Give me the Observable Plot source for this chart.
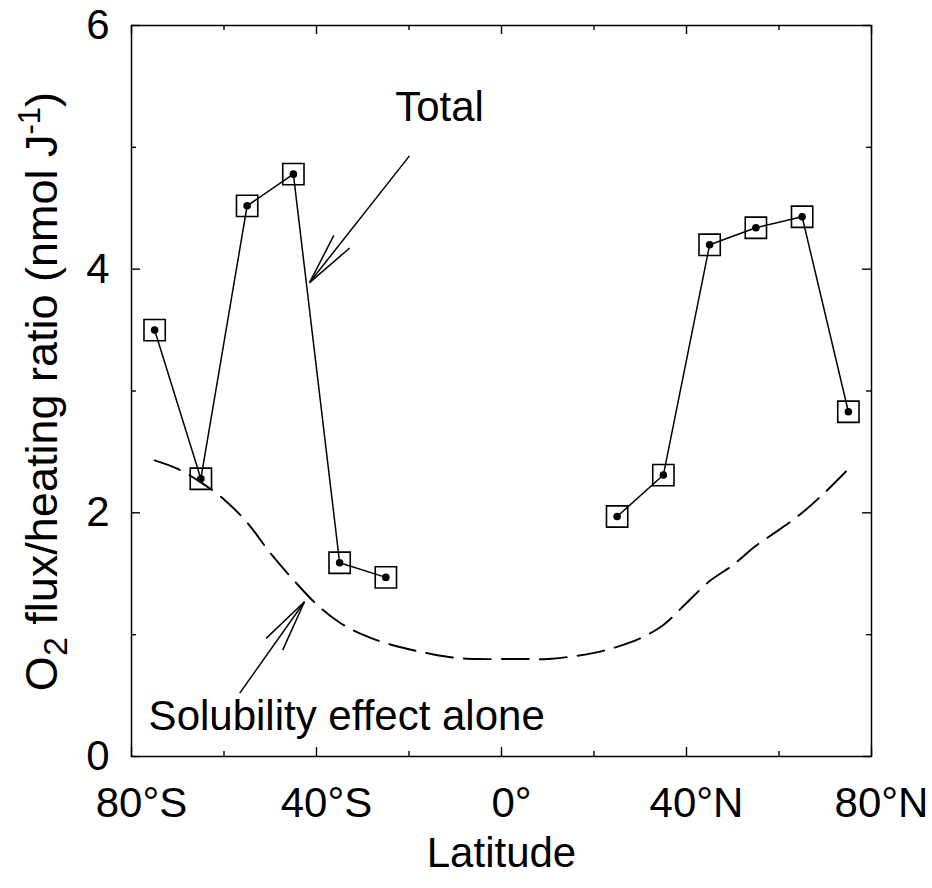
<!DOCTYPE html>
<html><head><meta charset="utf-8">
<script src="https://cdn.jsdelivr.net/npm/d3@7"></script>
<script src="https://cdn.jsdelivr.net/npm/@observablehq/plot@0.6"></script>
<style>body{margin:0;background:#fff} svg{display:block}</style>
</head><body><div id="chart"></div>
<script>
// Total O2 flux/heating ratio (squares with dots)
const totalLat = [-75, -65, -55, -45, -35, -25, 25, 35, 45, 55, 65, 75];
const totalVal = [3.50, 2.28, 4.52, 4.78, 1.59, 1.47, 1.97, 2.31, 4.20, 4.34, 4.43, 2.83];
// Solubility effect alone (dashed)
const solLat = [-75, -70, -65, -60, -55, -50, -45, -40, -35, -30, -25, -20, -15, -10, -5, 0, 5, 10, 15, 20, 25, 30, 35, 40, 45, 50, 55, 60, 65, 70, 75];
const solVal = [2.43, 2.36, 2.25, 2.11, 1.92, 1.67, 1.45, 1.25, 1.10, 1.00, 0.93, 0.88, 0.84, 0.81, 0.80, 0.80, 0.80, 0.80, 0.82, 0.85, 0.90, 0.97, 1.08, 1.26, 1.44, 1.57, 1.73, 1.86, 2.00, 2.17, 2.36];
// Axis ticks
const xMajor = [-80, -40, 0, 40, 80];
const xMinor = [-60, -20, 20, 60];
const xTickLabels = ["80°S", "40°S", "0°", "40°N", "80°N"];
const yMajor = [0, 2, 4, 6];
const yMinor = [1, 3, 5];
const yTickLabels = ["0", "2", "4", "6"];
// Annotations
const noteText = ["Total", "Solubility effect alone"];
const noteLat = [-13.4, -76.3];
const noteVal = [5.33, 0.33];
const arrowFromLat = [-19.9, -56.6];
const arrowFromVal = [4.93, 0.52];
const arrowToLat = [-41.5, -42.6];
const arrowToVal = [3.89, 1.27];

const W = 932, H = 888, mL = 131, mR = 61, mT = 25, mB = 132;
const pw = W - mL - mR, ph = H - mT - mB;
const kx = pw / 160, ky = ph / 6;

const total = totalLat.map((x, i) => ({x, y: totalVal[i], hemi: x < 0 ? "S" : "N"}));
const sol = solLat.map((x, i) => ({x, y: solVal[i]}));
const notes = noteText.map((t, i) => ({t, x: noteLat[i], y: noteVal[i]}));
const arrows = arrowFromLat.map((x, i) => ({x1: x, y1: arrowFromVal[i], x2: arrowToLat[i], y2: arrowToVal[i]}));
// arrow wings (open V heads)
const wingLen = 53, wingHalf = 11 * Math.PI / 180;
const wings = [];
arrows.forEach(a => {
  const dx = (a.x1 - a.x2) * kx, dy = -(a.y1 - a.y2) * ky;
  const ang = Math.atan2(dy, dx);
  [-1, 1].forEach(s => {
    const t = ang + s * wingHalf;
    wings.push({x1: a.x2, y1: a.y2, x2: a.x2 + Math.cos(t) * wingLen / kx, y2: a.y2 - Math.sin(t) * wingLen / ky});
  });
});

const font = "'Liberation Sans', Arial, Helvetica, sans-serif";
const fs = 42;
const chart = Plot.plot({
  width: W, height: H,
  marginLeft: mL, marginRight: mR, marginTop: mT, marginBottom: mB,
  style: {fontFamily: font, background: "#fff", color: "black"},
  x: {domain: [-80, 80], label: null},
  y: {domain: [0, 6], label: null},
  marks: [
    Plot.frame({stroke: "black", strokeWidth: 1.5}),
    Plot.ruleX(xMajor, {insetTop: ph - 9, stroke: "black", strokeWidth: 1.4}),
    Plot.ruleX(xMajor, {insetBottom: ph - 9, stroke: "black", strokeWidth: 1.4}),
    Plot.ruleX(xMinor, {insetTop: ph - 5, stroke: "black", strokeWidth: 1.4}),
    Plot.ruleX(xMinor, {insetBottom: ph - 5, stroke: "black", strokeWidth: 1.4}),
    Plot.ruleY(yMajor, {insetRight: pw - 9, stroke: "black", strokeWidth: 1.4}),
    Plot.ruleY(yMajor, {insetLeft: pw - 9, stroke: "black", strokeWidth: 1.4}),
    Plot.ruleY(yMinor, {insetRight: pw - 5, stroke: "black", strokeWidth: 1.4}),
    Plot.ruleY(yMinor, {insetLeft: pw - 5, stroke: "black", strokeWidth: 1.4}),
    Plot.axisX(xMajor, {anchor: "bottom", tickSize: 0, tickPadding: 31, fontSize: fs, dx: 10,
      tickFormat: d => xTickLabels[xMajor.indexOf(d)], label: null}),
    Plot.axisY(yMajor, {anchor: "left", tickSize: 0, tickPadding: 22, fontSize: fs,
      tickFormat: d => yTickLabels[yMajor.indexOf(d)], label: null}),
    Plot.line(sol, {x: "x", y: "y", stroke: "black", strokeWidth: 1.9, strokeDasharray: "27,11", curve: "catmull-rom"}),
    Plot.line(total, {x: "x", y: "y", z: "hemi", stroke: "black", strokeWidth: 1.5}),
    Plot.dot(total, {x: "x", y: "y", symbol: "square", r: 12, stroke: "black", strokeWidth: 1.6, fill: "none"}),
    Plot.dot(total, {x: "x", y: "y", r: 3.8, fill: "black"}),
    Plot.link(arrows, {x1: "x1", y1: "y1", x2: "x2", y2: "y2", stroke: "black", strokeWidth: 1.5}),
    Plot.link(wings, {x1: "x1", y1: "y1", x2: "x2", y2: "y2", stroke: "black", strokeWidth: 1.5}),
    Plot.text(notes.slice(0, 1), {x: "x", y: "y", text: "t", textAnchor: "middle", fontSize: fs, fill: "black"}),
    Plot.text(notes.slice(1), {x: "x", y: "y", text: "t", textAnchor: "start", fontSize: fs, fill: "black"}),
    Plot.text(["Latitude"], {frameAnchor: "bottom", text: d => d, dy: 110, fontSize: fs, fill: "black"})
  ]
});
document.getElementById("chart").appendChild(chart);

// Y axis title with subscript and superscript
const svg = d3.select(chart);
const t = svg.append("text")
  .attr("transform", `translate(41,${mT + ph / 2 + 1}) rotate(-90)`)
  .attr("text-anchor", "middle")
  .attr("dy", "0.35em")
  .attr("font-family", font)
  .attr("font-size", 45)
  .attr("fill", "black");
t.append("tspan").text("O");
t.append("tspan").attr("font-size", 34).attr("dy", 10).text("2");
t.append("tspan").attr("dy", -10).text(" flux/heating ratio (nmol J");
t.append("tspan").attr("font-size", 31).attr("dy", -17).text("-1");
t.append("tspan").attr("dy", 17).text(")");
</script>
</body></html>
